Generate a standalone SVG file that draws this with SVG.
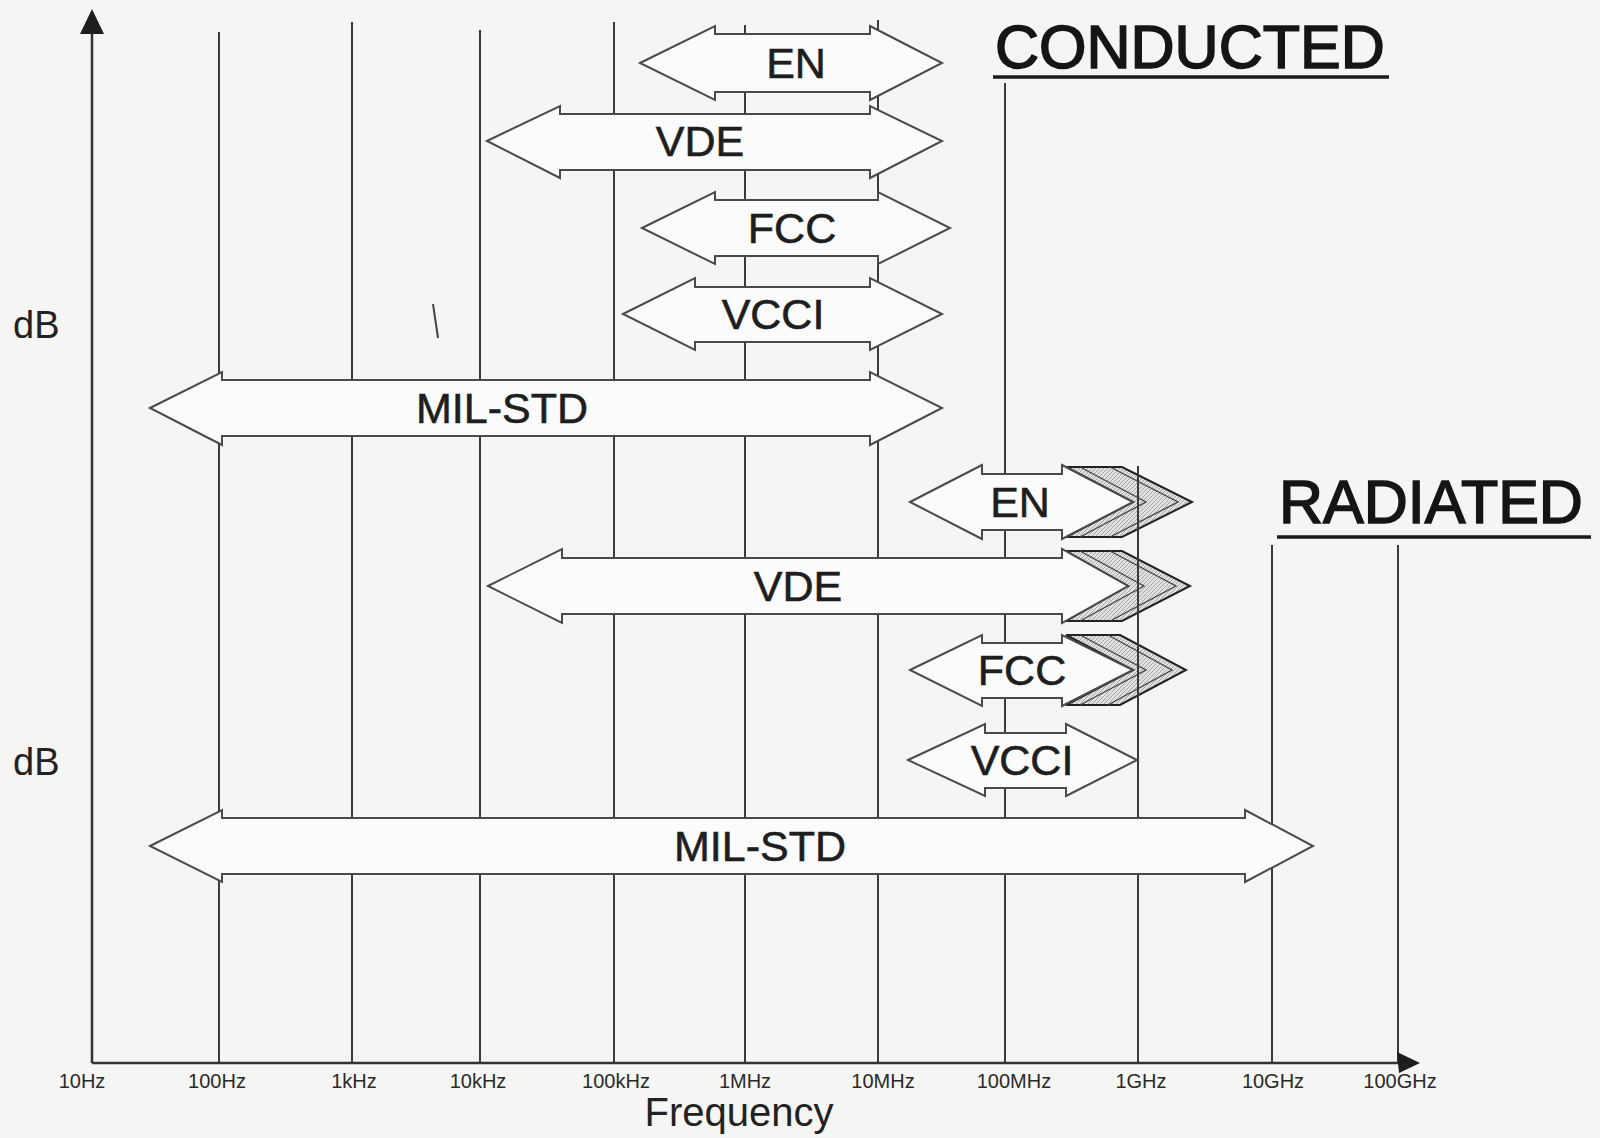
<svg xmlns="http://www.w3.org/2000/svg" width="1600" height="1138" viewBox="0 0 1600 1138">
<style>
.grid{stroke:#3a3a3a;stroke-width:2;fill:none}
.axis{stroke:#333;stroke-width:2.5;fill:none}
.ahead{fill:#1e1e1e}
.arr{fill:#fbfbfb;stroke:#4a4a4a;stroke-width:2;stroke-linejoin:miter}
.lbl{font-family:"Liberation Sans",Arial,sans-serif;font-size:43px;fill:#1e1e1e;stroke:#1e1e1e;stroke-width:0.6;text-anchor:middle}
.tick{font-family:"Liberation Sans",Arial,sans-serif;font-size:20px;fill:#2a2a2a;text-anchor:middle}
.title{font-family:"Liberation Sans",Arial,sans-serif;font-size:61px;fill:#151515;stroke:#151515;stroke-width:1.6}
.db{font-family:"Liberation Sans",Arial,sans-serif;font-size:38px;fill:#222}
.chev{fill:url(#hatch);stroke:#222;stroke-width:2;stroke-linejoin:miter}
.chevl{fill:none;stroke:#444;stroke-width:1.3}
</style>
<defs>
<pattern id="hatch" width="4" height="4" patternUnits="userSpaceOnUse">
<rect width="4" height="4" fill="#e0e0e0"/>
<path d="M0,4 L4,0" stroke="#a8a8a8" stroke-width="1"/>
</pattern>
</defs>
<rect width="1600" height="1138" fill="#f5f5f3"/>

<g id="chevrons">
<polygon class="chev" points="1066,467 1122,467 1192,502 1122,537 1066,537 1133,502"/>
<polyline class="chevl" points="1080,467 1146,502 1080,537"/>
<polyline class="chevl" points="1110,467 1178,502 1110,537"/>
<polygon class="chev" points="1066,551 1122,551 1190,586 1122,621 1066,621 1128,586"/>
<polyline class="chevl" points="1080,551 1144,586 1080,621"/>
<polyline class="chevl" points="1110,551 1176,586 1110,621"/>
<polygon class="chev" points="1066,635 1120,635 1186,670 1120,705 1066,705 1133,670"/>
<polyline class="chevl" points="1080,635 1146,670 1080,705"/>
<polyline class="chevl" points="1108,635 1172,670 1108,705"/>
</g>

<g id="grid">
<line class="grid" x1="219" y1="32" x2="219" y2="1063"/>
<line class="grid" x1="352" y1="22" x2="352" y2="1063"/>
<line class="grid" x1="480" y1="30" x2="480" y2="1063"/>
<line class="grid" x1="614" y1="22" x2="614" y2="1063"/>
<line class="grid" x1="745" y1="25" x2="745" y2="1063"/>
<line class="grid" x1="878" y1="20" x2="878" y2="1063"/>
<line class="grid" x1="1005" y1="83" x2="1005" y2="1063"/>
<line class="grid" x1="1138" y1="466" x2="1138" y2="1063"/>
<line class="grid" x1="1272" y1="545" x2="1272" y2="1063"/>
<line class="grid" x1="1398" y1="545" x2="1398" y2="1063"/>
<line x1="433" y1="304" x2="438" y2="338" stroke="#444" stroke-width="2"/>
</g>

<g id="axes">
<line class="axis" x1="92" y1="1063" x2="92" y2="30"/>
<polygon class="ahead" points="92,9 80,34 104,34"/>
<line class="axis" x1="92" y1="1063" x2="1400" y2="1063"/>
<polygon class="ahead" points="1420,1063 1397,1052 1399,1073"/>
</g>

<g id="connectors">
<g id="cond-en"><path class="arr" d="M640,63 L715,26 L715,34 L870,34 L870,26 L942,63 L870,100 L870,92 L715,92 L715,100 Z"/><text class="lbl" x="796" y="78">EN</text></g>
<g id="cond-vde"><path class="arr" d="M487,141 L560,106 L560,114 L870,114 L870,106 L942,141 L870,178 L870,170 L560,170 L560,178 Z"/><text class="lbl" x="700" y="156">VDE</text></g>
<g id="cond-fcc"><path class="arr" d="M642,228 L715,192 L715,200 L878,200 L878,192 L950,228 L878,264 L878,256 L715,256 L715,264 Z"/><text class="lbl" x="792" y="243">FCC</text></g>
<g id="cond-vcci"><path class="arr" d="M623,314 L695,278 L695,287 L870,287 L870,278 L942,314 L870,350 L870,342 L695,342 L695,350 Z"/><text class="lbl" x="773" y="329">VCCI</text></g>
<g id="cond-mil"><path class="arr" d="M150,408 L222,372 L222,380 L870,380 L870,372 L942,408 L870,445 L870,436 L222,436 L222,445 Z"/><text class="lbl" x="502" y="423">MIL-STD</text></g>

<g id="rad-en"><path class="arr" d="M910,502 L982,465 L982,474 L1062,474 L1062,465 L1133,502 L1062,539 L1062,530 L982,530 L982,539 Z"/><text class="lbl" x="1020" y="517">EN</text></g>
<g id="rad-vde"><path class="arr" d="M488,586 L562,549 L562,558 L1062,558 L1062,549 L1128,586 L1062,623 L1062,614 L562,614 L562,623 Z"/><text class="lbl" x="798" y="601">VDE</text></g>
<g id="rad-fcc"><path class="arr" d="M910,670 L982,635 L982,643 L1062,643 L1062,635 L1133,670 L1062,706 L1062,698 L982,698 L982,706 Z"/><text class="lbl" x="1022" y="685">FCC</text></g>
<g id="rad-vcci"><path class="arr" d="M908,760 L985,724 L985,733 L1066,733 L1066,724 L1137,760 L1066,796 L1066,788 L985,788 L985,796 Z"/><text class="lbl" x="1022" y="775">VCCI</text></g>
<g id="rad-mil"><path class="arr" d="M150,846 L222,810 L222,818 L1245,818 L1245,810 L1313,846 L1245,882 L1245,874 L222,874 L222,882 Z"/><text class="lbl" x="760" y="861">MIL-STD</text></g>
</g>

<g id="titles">
<text class="title" x="995" y="68">CONDUCTED</text>
<line x1="993" y1="77" x2="1389" y2="77" stroke="#1a1a1a" stroke-width="3.5"/>
<text class="title" x="1279" y="523">RADIATED</text>
<line x1="1277" y1="537" x2="1591" y2="537" stroke="#1a1a1a" stroke-width="3.5"/>
<text class="db" x="13" y="338">dB</text>
<text class="db" x="13" y="775">dB</text>
</g>

<g id="ticks">
<text class="tick" x="82" y="1088">10Hz</text>
<text class="tick" x="217" y="1088">100Hz</text>
<text class="tick" x="354" y="1088">1kHz</text>
<text class="tick" x="478" y="1088">10kHz</text>
<text class="tick" x="616" y="1088">100kHz</text>
<text class="tick" x="745" y="1088">1MHz</text>
<text class="tick" x="883" y="1088">10MHz</text>
<text class="tick" x="1014" y="1088">100MHz</text>
<text class="tick" x="1141" y="1088">1GHz</text>
<text class="tick" x="1273" y="1088">10GHz</text>
<text class="tick" x="1400" y="1088">100GHz</text>
<text class="db" x="739" y="1126" text-anchor="middle" style="font-size:40px">Frequency</text>
</g>
</svg>
